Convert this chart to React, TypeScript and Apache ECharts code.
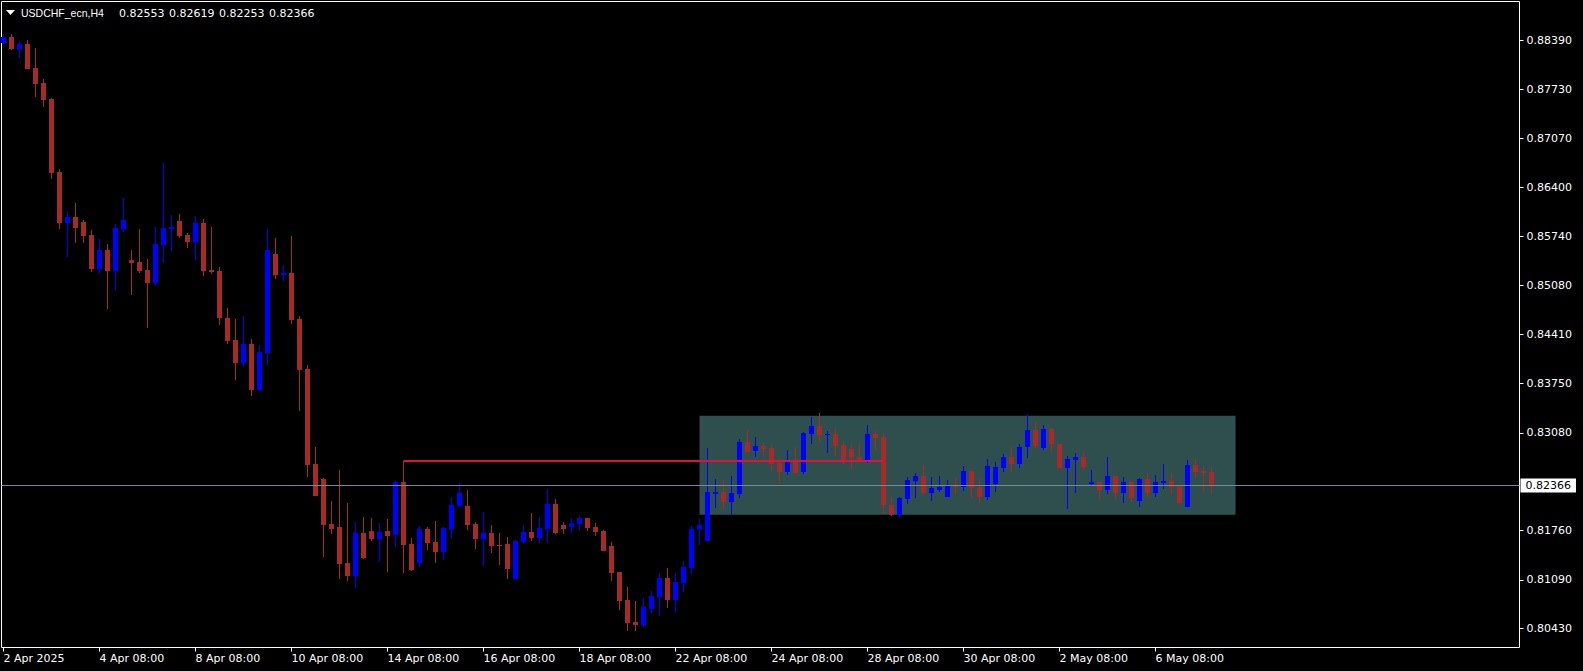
import React, { useEffect, useRef } from "react";
import * as echarts from "echarts";

// ---- Data (USDCHF_ecn, H4) ----
const SYMBOL = "USDCHF_ecn,H4";

const opens = [
  0.88362, 0.88439, 0.88281, 0.88344, 0.88019, 0.87816, 0.87600, 0.86611, 0.85925, 0.86002,
  0.85934, 0.85758, 0.85302, 0.85555, 0.85275, 0.85843, 0.85420, 0.85393, 0.85284, 0.85112,
  0.85627, 0.85843, 0.85948, 0.85758, 0.85667, 0.85921, 0.85288, 0.85271, 0.84638, 0.84336,
  0.84029, 0.84282, 0.83663, 0.84164, 0.85501, 0.85221, 0.85244, 0.84621, 0.83944, 0.82657,
  0.82454, 0.81845, 0.81804, 0.81317, 0.81145, 0.81723, 0.81750, 0.81646, 0.81750, 0.81696,
  0.82414, 0.81574, 0.81317, 0.81777, 0.81601, 0.81470, 0.81777, 0.82093, 0.82089, 0.81845,
  0.81642, 0.81723, 0.81561, 0.81574, 0.81104, 0.81605, 0.81737, 0.81660, 0.81777, 0.82116,
  0.81831, 0.81804, 0.81849, 0.81926, 0.81804, 0.81750, 0.81547, 0.81195, 0.80816, 0.80518,
  0.80482, 0.80698, 0.80861, 0.81118, 0.80820, 0.81050, 0.81253, 0.81777, 0.81619, 0.82255,
  0.82278, 0.82147, 0.82255, 0.82955, 0.82838, 0.82901, 0.82874, 0.82671, 0.82553, 0.82698,
  0.82553, 0.83068, 0.83172, 0.83054, 0.83064, 0.82915, 0.82861, 0.82752, 0.82698, 0.83068,
  0.83023, 0.82102, 0.81967, 0.82188, 0.82427, 0.82495, 0.82265, 0.82305, 0.82211, 0.82364,
  0.82346, 0.82563, 0.82346, 0.82211, 0.82387, 0.82607, 0.82752, 0.82662, 0.82892, 0.83118,
  0.82878, 0.83131, 0.82932, 0.82607, 0.82716, 0.82752, 0.82391, 0.82418, 0.82310, 0.82495,
  0.82265, 0.82414, 0.82161, 0.82454, 0.82265, 0.82404, 0.82427, 0.82360, 0.82079, 0.82644,
  0.82563, 0.82553,
];

const highs = [
  0.88476, 0.88480, 0.88385, 0.88398, 0.88290, 0.87870, 0.87617, 0.86652, 0.86083, 0.86191,
  0.85961, 0.85826, 0.85704, 0.85636, 0.85907, 0.86259, 0.85555, 0.85839, 0.85433, 0.85866,
  0.86733, 0.86029, 0.86042, 0.85785, 0.86015, 0.85975, 0.85866, 0.85325, 0.84770, 0.84621,
  0.84665, 0.84350, 0.84269, 0.85839, 0.85717, 0.85352, 0.85745, 0.84665, 0.83998, 0.82892,
  0.82468, 0.82161, 0.82576, 0.82133, 0.81876, 0.81944, 0.81926, 0.81859, 0.81913, 0.82423,
  0.82700, 0.81655, 0.81818, 0.81804, 0.81886, 0.81804, 0.82211, 0.82400, 0.82305, 0.81872,
  0.82008, 0.81831, 0.81723, 0.81669, 0.81633, 0.81831, 0.81994, 0.81940, 0.82319, 0.82184,
  0.81872, 0.81926, 0.81953, 0.81930, 0.81859, 0.81764, 0.81601, 0.81200, 0.80992, 0.80803,
  0.80843, 0.80938, 0.81182, 0.81249, 0.81182, 0.81344, 0.81818, 0.81913, 0.82874, 0.82454,
  0.82427, 0.82495, 0.82996, 0.83118, 0.83023, 0.82942, 0.82915, 0.82739, 0.82847, 0.82888,
  0.83091, 0.83294, 0.83348, 0.83104, 0.83145, 0.82955, 0.82928, 0.82928, 0.83186, 0.83104,
  0.83064, 0.82211, 0.82211, 0.82481, 0.82536, 0.82644, 0.82481, 0.82495, 0.82441, 0.82468,
  0.82630, 0.82590, 0.82454, 0.82725, 0.82685, 0.82793, 0.82888, 0.82928, 0.83334, 0.83226,
  0.83186, 0.83145, 0.82942, 0.82766, 0.82806, 0.82806, 0.82580, 0.82420, 0.82752, 0.82500,
  0.82481, 0.82427, 0.82468, 0.82536, 0.82509, 0.82657, 0.82536, 0.82373, 0.82712, 0.82725,
  0.82630, 0.82619,
];

const lows = [
  0.88350, 0.88263, 0.88151, 0.88000, 0.87631, 0.87495, 0.86520, 0.85843, 0.85464, 0.85654,
  0.85654, 0.85261, 0.85234, 0.84760, 0.85018, 0.85803, 0.84950, 0.85248, 0.84503, 0.85085,
  0.85383, 0.85546, 0.85722, 0.85586, 0.85424, 0.85207, 0.85234, 0.84544, 0.84286, 0.83799,
  0.83988, 0.83582, 0.83655, 0.84002, 0.85166, 0.85139, 0.84557, 0.83379, 0.82486, 0.82220,
  0.81402, 0.81714, 0.81104, 0.81077, 0.80983, 0.81375, 0.81619, 0.81335, 0.81199, 0.81538,
  0.81186, 0.81213, 0.81267, 0.81497, 0.81321, 0.81362, 0.81660, 0.82075, 0.81768, 0.81511,
  0.81280, 0.81456, 0.81294, 0.81104, 0.81100, 0.81592, 0.81619, 0.81592, 0.81592, 0.81714,
  0.81714, 0.81727, 0.81768, 0.81754, 0.81687, 0.81480, 0.81077, 0.80685, 0.80400, 0.80396,
  0.80455, 0.80640, 0.80603, 0.80712, 0.80658, 0.80928, 0.81172, 0.81561, 0.81610, 0.82066,
  0.82052, 0.81967, 0.82201, 0.82820, 0.82756, 0.82756, 0.82567, 0.82391, 0.82513, 0.82535,
  0.82526, 0.82932, 0.82955, 0.82810, 0.82766, 0.82662, 0.82594, 0.82690, 0.82671, 0.82847,
  0.81985, 0.81953, 0.81944, 0.82120, 0.82201, 0.82251, 0.82161, 0.82282, 0.82205, 0.82255,
  0.82296, 0.82197, 0.82133, 0.82174, 0.82282, 0.82553, 0.82553, 0.82607, 0.82743, 0.82878,
  0.82851, 0.82824, 0.82594, 0.82052, 0.82269, 0.82594, 0.82364, 0.82188, 0.82255, 0.82188,
  0.82133, 0.82147, 0.82079, 0.82215, 0.82215, 0.82323, 0.82255, 0.82120, 0.82070, 0.82472,
  0.82296, 0.82253,
];

const closes = [
  0.88439, 0.88277, 0.88344, 0.88010, 0.87807, 0.87590, 0.86602, 0.85925, 0.86002, 0.85857,
  0.85749, 0.85302, 0.85555, 0.85275, 0.85853, 0.85961, 0.85383, 0.85275, 0.85112, 0.85636,
  0.85853, 0.85870, 0.85749, 0.85667, 0.85921, 0.85275, 0.85261, 0.84638, 0.84327, 0.84029,
  0.84282, 0.83663, 0.84174, 0.85555, 0.85221, 0.85244, 0.84611, 0.83934, 0.82648, 0.82228,
  0.81836, 0.81781, 0.81308, 0.81145, 0.81723, 0.81389, 0.81646, 0.81737, 0.81687, 0.82414,
  0.81565, 0.81226, 0.81777, 0.81592, 0.81470, 0.81791, 0.82102, 0.82265, 0.81836, 0.81646,
  0.81723, 0.81551, 0.81551, 0.81240, 0.81619, 0.81737, 0.81660, 0.81791, 0.82116, 0.81727,
  0.81781, 0.81859, 0.81926, 0.81791, 0.81741, 0.81484, 0.81186, 0.80807, 0.80509, 0.80482,
  0.80721, 0.80870, 0.81118, 0.80820, 0.81064, 0.81263, 0.81777, 0.81831, 0.82278, 0.82278,
  0.82147, 0.82265, 0.82955, 0.82824, 0.82901, 0.82861, 0.82664, 0.82553, 0.82689, 0.82540,
  0.83077, 0.83172, 0.83050, 0.83068, 0.82905, 0.82712, 0.82743, 0.82698, 0.83064, 0.83014,
  0.82106, 0.81967, 0.82197, 0.82441, 0.82495, 0.82265, 0.82333, 0.82346, 0.82360, 0.82350,
  0.82563, 0.82333, 0.82211, 0.82630, 0.82617, 0.82752, 0.82662, 0.82888, 0.83118, 0.82905,
  0.83131, 0.82932, 0.82607, 0.82725, 0.82752, 0.82621, 0.82418, 0.82310, 0.82495, 0.82265,
  0.82414, 0.82201, 0.82454, 0.82265, 0.82414, 0.82427, 0.82350, 0.82133, 0.82644, 0.82553,
  0.82540, 0.82366,
];

// time-axis labels, one every 12 bars
const timeLabels = [
  "2 Apr 2025", "4 Apr 08:00", "8 Apr 08:00", "10 Apr 08:00", "14 Apr 08:00", "16 Apr 08:00",
  "18 Apr 08:00", "22 Apr 08:00", "24 Apr 08:00", "28 Apr 08:00", "30 Apr 08:00", "2 May 08:00",
  "6 May 08:00",
];
const LABEL_STEP = 12;

// price scale tick labels
const priceTicks = [
  0.80430, 0.81090, 0.81760, 0.83080, 0.83750, 0.84410, 0.85080, 0.85740, 0.86400, 0.87070,
  0.87730, 0.88390,
];

// chart objects
const trendLevel = 0.827;
const trendFromBar = 50;
const trendToBar = 110;
const boxFromBar = 87;
const boxToBar = 154;
const boxTop = 0.8331;
const boxBottom = 0.8197;

// visible ranges
const X_MIN = -0.25;
const X_MAX = 189.5;
const Y_MIN = 0.801728;
const Y_MAX = 0.889197;

const BULL = "#0000FF";
const BEAR = "#A52A2A";

export default function App() {
  const ref = useRef<HTMLDivElement>(null);

  useEffect(() => {
    document.body.style.margin = "0";
    document.body.style.background = "#000";
    if (!ref.current) return;
    const chart = echarts.init(ref.current, undefined, { renderer: "svg" });

    const last = opens.length - 1;
    const headerValues = [opens[last], highs[last], lows[last], closes[last]];
    const lastClose = closes[last];

    const data = opens.map((o, i) => [i, o, closes[i], lows[i], highs[i]]);
    const tickIdx = timeLabels.map((_, k) => k * LABEL_STEP);

    const headerTitles = headerValues.map((v, k) => ({
      text: v.toFixed(5),
      left: 119 + k * 50,
      top: 6,
      padding: 0,
      textStyle: {
        color: "#ffffff",
        fontSize: 11,
        fontFamily: "DejaVu Sans",
        fontWeight: "normal",
        lineHeight: 14,
      },
    }));

    const option: any = {
      animation: false,
      backgroundColor: "#000000",
      title: [
        {
          text: SYMBOL,
          left: 21,
          top: 6,
          padding: 0,
          textStyle: {
            color: "#ffffff",
            fontSize: 10.5,
            fontFamily: "Liberation Sans",
            fontWeight: "normal",
            lineHeight: 14,
          },
        },
        ...headerTitles,
      ],
      graphic: [
        {
          type: "polygon",
          shape: { points: [[6, 10], [15, 10], [10.5, 15]] },
          style: { fill: "#ffffff" },
          silent: true,
        },
      ],
      grid: {
        left: 1.5,
        top: 1.5,
        right: 63.5,
        bottom: 23.5,
        show: true,
        borderColor: "#ffffff",
        borderWidth: 1,
        backgroundColor: "transparent",
      },
      xAxis: {
        type: "value",
        min: X_MIN,
        max: X_MAX,
        axisLine: { show: false, onZero: false },
        splitLine: { show: false },
        axisTick: {
          show: true,
          customValues: tickIdx,
          length: 4,
          lineStyle: { color: "#ffffff" },
        },
        axisLabel: {
          customValues: tickIdx,
          formatter: (v: number) => timeLabels[Math.round(v / LABEL_STEP)] ?? "",
          color: "#ffffff",
          fontFamily: "DejaVu Sans",
          fontSize: 11,
          align: "left",
          verticalAlign: "top",
          lineHeight: 14,
          margin: 4,
        },
      },
      yAxis: {
        type: "value",
        position: "right",
        min: Y_MIN,
        max: Y_MAX,
        axisLine: { show: false, onZero: false },
        splitLine: { show: false },
        axisTick: {
          show: true,
          customValues: priceTicks,
          length: 4,
          lineStyle: { color: "#ffffff" },
        },
        axisLabel: {
          customValues: priceTicks,
          formatter: (v: number) => v.toFixed(5),
          color: "#ffffff",
          fontFamily: "DejaVu Sans",
          fontSize: 11,
          align: "left",
          margin: 7,
        },
      },
      series: [
        {
          type: "custom",
          name: SYMBOL,
          data,
          encode: { x: 0, y: [1, 2, 3, 4] },
          clip: true,
          z: 2,
          renderItem: (_params: any, api: any) => {
            const i = api.value(0);
            const o = api.value(1);
            const c = api.value(2);
            const lo = api.value(3);
            const hi = api.value(4);
            const pO = api.coord([i, o]);
            const pC = api.coord([i, c]);
            const pL = api.coord([i, lo]);
            const pH = api.coord([i, hi]);
            const color = c >= o ? BULL : BEAR;
            const px = Math.floor(pO[0]);
            const yT = Math.round(Math.min(pO[1], pC[1]));
            let yB = Math.round(Math.max(pO[1], pC[1]));
            if (yB - yT < 1) yB = yT + 1;
            const wT = Math.round(pH[1]);
            const wB = Math.max(Math.round(pL[1]), wT + 1);
            return {
              type: "group",
              children: [
                {
                  type: "rect",
                  shape: { x: px, y: wT, width: 1, height: wB - wT },
                  style: { fill: color },
                },
                {
                  type: "rect",
                  shape: { x: px - 2, y: yT, width: 5, height: yB - yT },
                  style: { fill: color },
                },
              ],
            };
          },
          markArea: {
            silent: true,
            itemStyle: { color: "#2F4F4F", opacity: 1 },
            data: [[{ coord: [boxFromBar, boxTop] }, { coord: [boxToBar, boxBottom] }]],
          },
          markLine: {
            silent: true,
            symbol: ["none", "none"],
            animation: false,
            data: [
              [
                {
                  coord: [X_MIN, lastClose],
                  lineStyle: { color: "#778899", width: 1, type: "solid" },
                  label: {
                    show: true,
                    position: "end",
                    distance: 1,
                    formatter: () => lastClose.toFixed(5),
                    color: "#000000",
                    backgroundColor: "#ffffff",
                    padding: [0, 5, 0, 5],
                    lineHeight: 14,
                    fontSize: 11,
                    fontFamily: "DejaVu Sans",
                  },
                },
                { coord: [X_MAX, lastClose] },
              ],
              [
                {
                  coord: [trendFromBar, trendLevel],
                  lineStyle: { color: "#DC143C", width: 2, type: "solid" },
                  label: { show: false },
                },
                { coord: [trendToBar, trendLevel] },
              ],
            ],
          },
        },
      ],
    };

    chart.setOption(option);
    return () => {
      chart.dispose();
    };
  }, []);

  return (
    <div
      ref={ref}
      style={{
        position: "fixed",
        left: 0,
        top: 0,
        width: 1583,
        height: 671,
        background: "#000",
      }}
    />
  );
}
